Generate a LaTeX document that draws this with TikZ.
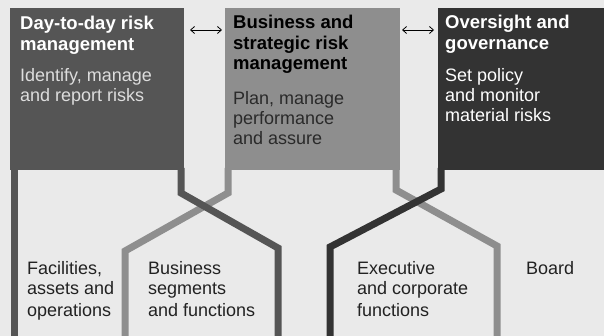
\documentclass[tikz,border=0pt]{standalone}
\usepackage{fontspec}
\setmainfont{Liberation Sans}
\usetikzlibrary{arrows.meta}
\definecolor{bgc}{HTML}{EAEAEA}
\definecolor{boxa}{HTML}{555555}
\definecolor{boxb}{HTML}{8E8E8E}
\definecolor{boxc}{HTML}{333333}
\definecolor{subA}{HTML}{DDDDDD}
\definecolor{subB}{HTML}{2A2A2A}
\definecolor{lbl}{HTML}{222222}
\begin{document}
\begin{tikzpicture}[x=1pt,y=-1pt,
  box/.style={anchor=north west, inner sep=0pt, outer sep=0pt, draw=none},
  lane/.style={line width=7pt, line join=miter, line cap=butt},
  dbl/.style={line width=0.8pt, black, {Straight Barb[length=4pt,width=7pt]}-{Straight Barb[length=4pt,width=7pt]}},
  ttl/.style={anchor=base west, inner sep=0pt, align=left, font=\fontsize{18.5}{20.5}\selectfont\bfseries},
  sub/.style={anchor=base west, inner sep=0pt, align=left, font=\fontsize{18}{20}\selectfont},
  bot/.style={anchor=base west, inner sep=0pt, align=left, text=lbl, font=\fontsize{18}{21}\selectfont}
]
\fill[bgc] (0,0) rectangle (604,336);
\useasboundingbox (0,0) rectangle (604,336);

% boxes
\node[box, fill=boxa, minimum width=174pt, minimum height=162pt] (b1) at (10,8) {};
\node[box, fill=boxb, minimum width=175pt, minimum height=162pt] (b2) at (225,8) {};
\node[box, fill=boxc, minimum width=166pt, minimum height=162pt] (b3) at (438,8) {};

% lane coordinates
\coordinate (p1s) at (14,168);
\coordinate (p1e) at (14,336);
\coordinate (q1s) at (181,168);
\coordinate (q1a) at (181,193);
\coordinate (q1b) at (278,248);
\coordinate (q1e) at (278,336);
\coordinate (p2s) at (228,168);
\coordinate (p2a) at (228,193);
\coordinate (p2b) at (125,251);
\coordinate (p2e) at (125,336);
\coordinate (q2s) at (396,168);
\coordinate (q2a) at (396,190);
\coordinate (q2b) at (497,246);
\coordinate (q2e) at (497,336);
\coordinate (p3s) at (441,168);
\coordinate (p3a) at (441,189);
\coordinate (p3b) at (330,247);
\coordinate (p3e) at (330,336);

\draw[lane, boxb] (p2s) -- (p2a) -- (p2b) -- (p2e);
\draw[lane, boxb] (q2s) -- (q2a) -- (q2b) -- (q2e);
\draw[lane, boxa] (p1s) -- (p1e);
\draw[lane, boxa] (q1s) -- (q1a) -- (q1b) -- (q1e);
\draw[lane, boxc] (p3s) -- (p3a) -- (p3b) -- (p3e);

% arrows between boxes
\coordinate (a1l) at (190,30);
\coordinate (a1r) at (222,30);
\coordinate (a2l) at (402,30);
\coordinate (a2r) at (434,30);
\draw[dbl] (a1l) -- (a1r);
\draw[dbl] (a2l) -- (a2r);

% box texts (anchor = baseline of the last line)
\node[ttl, text=white] (t1) at (20,50.5) {Day-to-day risk\\management};
\node[sub, text=subA] (s1) at (20,102) {Identify, manage\\and report risks};
\node[ttl, text=black] (t2) at (233,70) {Business and\\strategic risk\\management};
\node[sub, text=subB] (s2) at (233,145) {Plan, manage\\performance\\and assure};
\node[ttl, text=white] (t3) at (445,49.5) {Oversight and\\governance};
\node[sub, text=white] (s3) at (445,122) {Set policy\\and monitor\\material risks};

% bottom labels
\node[bot] (f1) at (27,316) {Facilities,\\assets and\\operations};
\node[bot] (f2) at (148,316) {Business\\segments\\and functions};
\node[bot] (f3) at (357,316) {Executive\\and corporate\\functions};
\node[bot] (f4) at (526,274) {Board};
\end{tikzpicture}
\end{document}
